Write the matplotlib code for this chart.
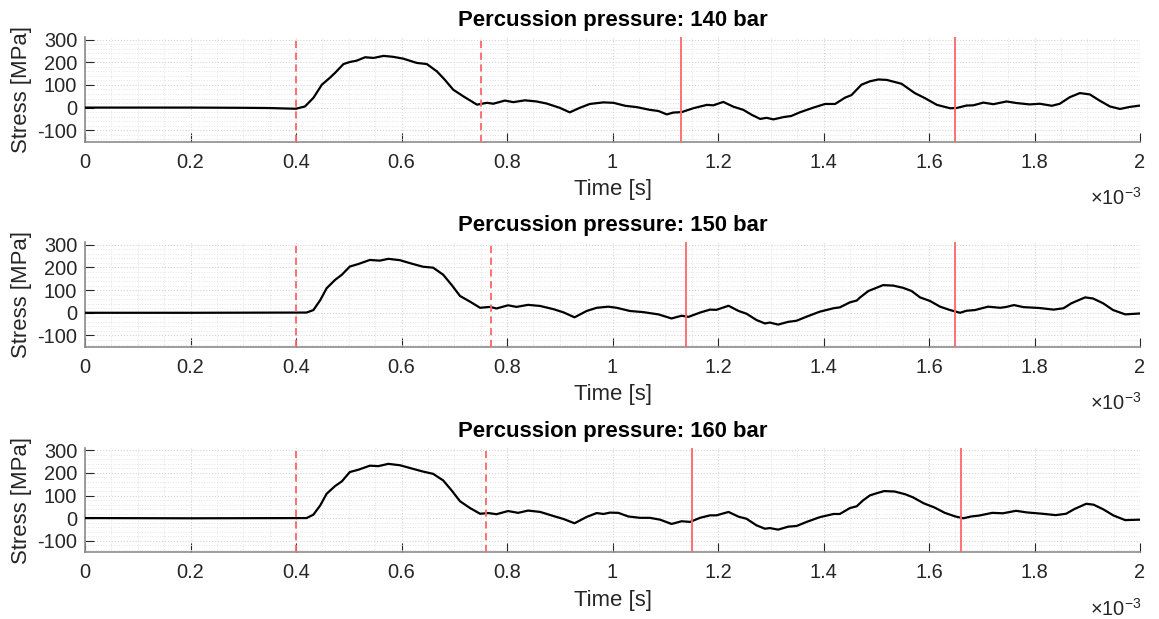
import matplotlib.pyplot as plt
from matplotlib.ticker import MultipleLocator

plt.rcParams['font.family'] = ['Liberation Sans', 'DejaVu Sans']
plt.rcParams['axes.unicode_minus'] = False
plt.rcParams['mathtext.fontset'] = 'custom'
plt.rcParams['mathtext.rm'] = 'Liberation Sans'

# time in ms (axis shows seconds x 10^-3), stress in MPa
t1 = [0, 0.1, 0.2, 0.3, 0.35, 0.38, 0.40,
      0.417, 0.433, 0.449, 0.464, 0.474, 0.49, 0.502, 0.515, 0.531, 0.547,
      0.566, 0.584, 0.603, 0.629, 0.648, 0.667, 0.682, 0.698, 0.717, 0.743,
      0.762, 0.774, 0.796, 0.812, 0.834, 0.856, 0.875, 0.9, 0.919, 0.938,
      0.957, 0.983, 1.002, 1.024, 1.046, 1.071, 1.087, 1.103, 1.115, 1.131,
      1.153, 1.179, 1.191, 1.21, 1.229, 1.248, 1.264, 1.28, 1.292, 1.305,
      1.324, 1.339, 1.355, 1.381, 1.403, 1.422, 1.441, 1.453, 1.472, 1.488,
      1.504, 1.52, 1.548, 1.573, 1.592, 1.615, 1.64, 1.652, 1.671, 1.684,
      1.703, 1.722, 1.747, 1.766, 1.791, 1.81, 1.833, 1.848, 1.867, 1.886,
      1.905, 1.924, 1.943, 1.962, 1.981, 2.0]
s1 = [0, 0, 0, -1, -2, -4, -5,
      5, 43, 101, 131, 153, 192, 201, 207, 222, 219,
      228, 224, 216, 197, 192, 160, 123, 79, 50, 13,
      21, 17, 31, 24, 32, 27, 18, -1, -21, -1,
      16, 23, 21, 8, 2, -10, -15, -30, -22, -20,
      -3, 12, 10, 25, 4, -10, -32, -50, -45, -52,
      -42, -37, -21, 0, 16, 16, 44, 55, 101, 116,
      124, 122, 105, 64, 42, 12, -3, -2, 9, 10,
      22, 15, 27, 20, 14, 17, 8, 17, 46, 64,
      58, 30, 5, -6, 3, 9]

t2 = [0, 0.2, 0.42, 0.433, 0.446, 0.458, 0.474, 0.487, 0.502, 0.518,
      0.54, 0.559, 0.575, 0.597, 0.622, 0.641, 0.66, 0.679, 0.695, 0.711,
      0.73, 0.749, 0.768, 0.78, 0.802, 0.818, 0.84, 0.863, 0.888, 0.907,
      0.928, 0.951, 0.97, 0.992, 1.008, 1.033, 1.058, 1.087, 1.112, 1.131,
      1.144, 1.166, 1.185, 1.197, 1.22, 1.239, 1.254, 1.273, 1.289, 1.298,
      1.314, 1.333, 1.349, 1.368, 1.393, 1.419, 1.431, 1.45, 1.463, 1.469,
      1.485, 1.498, 1.513, 1.532, 1.551, 1.567, 1.583, 1.602, 1.621, 1.64,
      1.659, 1.671, 1.687, 1.712, 1.735, 1.747, 1.761, 1.779, 1.81, 1.836,
      1.855, 1.87, 1.896, 1.911, 1.93, 1.949, 1.972, 2.0]
s2 = [0, 0, 1, 12, 56, 108, 145, 168, 204, 215,
      233, 230, 238, 232, 215, 203, 199, 168, 123, 74,
      49, 22, 26, 19, 33, 26, 35, 30, 16, 2,
      -20, 8, 22, 27, 22, 8, 3, -7, -25, -13,
      -18, 1, 14, 13, 31, 8, -4, -32, -47, -43,
      -52, -40, -35, -17, 5, 20, 24, 46, 54, 67,
      96, 108, 122, 120, 110, 96, 68, 52, 27, 12,
      0, 9, 12, 27, 22, 26, 34, 25, 21, 14,
      20, 42, 68, 63, 42, 12, -7, -3]

t3 = [0, 0.2, 0.42, 0.433, 0.446, 0.458, 0.474, 0.487, 0.502, 0.518,
      0.54, 0.556, 0.575, 0.597, 0.622, 0.641, 0.66, 0.679, 0.695, 0.711,
      0.73, 0.749, 0.765, 0.78, 0.802, 0.821, 0.84, 0.863, 0.888, 0.907,
      0.928, 0.951, 0.97, 0.983, 0.995, 1.011, 1.03, 1.052, 1.071, 1.09,
      1.112, 1.131, 1.147, 1.166, 1.185, 1.197, 1.22, 1.239, 1.254, 1.273,
      1.289, 1.298, 1.314, 1.333, 1.349, 1.368, 1.393, 1.419, 1.431, 1.45,
      1.463, 1.475, 1.488, 1.5, 1.515, 1.535, 1.555, 1.57, 1.59, 1.61,
      1.63, 1.65, 1.665, 1.68, 1.695, 1.72, 1.74, 1.765, 1.785, 1.815,
      1.84, 1.86, 1.875, 1.898, 1.912, 1.93, 1.95, 1.972, 2.0]
s3 = [1, 0, 1, 16, 57, 108, 142, 163, 204, 214,
      232, 230, 240, 234, 218, 206, 196, 167, 123, 75,
      45, 20, 23, 18, 32, 24, 34, 28, 10, -3,
      -22, 6, 23, 19, 25, 24, 8, 2, 2, -6,
      -25, -13, -16, 2, 13, 13, 28, 7, -2, -31,
      -46, -43, -50, -37, -34, -16, 5, 19, 19, 45,
      53, 79, 101, 110, 120, 118, 106, 92, 66, 48,
      24, 8, 0, 8, 12, 24, 22, 33, 26, 20,
      14, 20, 40, 64, 60, 40, 12, -8, -6]

pressures = [140, 150, 160]
times = [t1, t2, t3]
stresses = [s1, s2, s3]
dashed_marks = [[0.40, 0.75], [0.40, 0.77], [0.40, 0.76]]
solid_marks = [[1.13, 1.65], [1.14, 1.65], [1.15, 1.66]]
xticks = [0, 0.2, 0.4, 0.6, 0.8, 1.0, 1.2, 1.4, 1.6, 1.8, 2.0]
xtick_labels = ['0', '0.2', '0.4', '0.6', '0.8', '1', '1.2', '1.4', '1.6',
                '1.8', '2']
yticks = [-100, 0, 100, 200, 300]

W, H = 1159, 619
fig = plt.figure(figsize=(W / 100, H / 100), dpi=100)
red = '#ff6666'
tops = [37.3, 242.5, 448.0]
ax_h = 104.3

for i in range(3):
    ax = fig.add_axes([85 / W, 1 - (tops[i] + ax_h) / H, 1055 / W, ax_h / H])
    ax.plot(times[i], stresses[i], color='black', lw=1.6, zorder=3)
    for x in dashed_marks[i]:
        ax.axvline(x, color=red, lw=1.3, ls=(0, (4, 2.5)), zorder=4)
    for x in solid_marks[i]:
        ax.axvline(x, color=red, lw=1.3, zorder=4)

    ax.set_xlim(0, 2)
    ax.set_ylim(-150, 310)
    ax.set_xticks(xticks)
    ax.set_xticklabels(xtick_labels)
    ax.xaxis.set_minor_locator(MultipleLocator(0.05))
    ax.set_yticks(yticks)
    ax.yaxis.set_minor_locator(MultipleLocator(20))

    ax.grid(True, which='major', color='#d4d4d4', ls=':', lw=0.8)
    ax.grid(True, which='minor', color='#e4e4e4', ls=':', lw=0.7)
    ax.set_axisbelow(True)

    for side in ['top', 'right']:
        ax.spines[side].set_visible(False)
    for side in ['left', 'bottom']:
        ax.spines[side].set_color('#8c8c8c')
        ax.spines[side].set_linewidth(1.2)

    ax.tick_params(which='major', direction='in', length=6.5, width=0.8,
                   color='#262626', labelcolor='#262626', labelsize=14.4)
    ax.tick_params(axis='x', pad=8)
    ax.tick_params(axis='y', pad=5.5)
    ax.tick_params(which='minor', length=0)

    ax.set_title('Percussion pressure: %d bar' % pressures[i],
                 fontsize=15.9, fontweight='bold', pad=8)
    ax.set_xlabel('Time [s]', fontsize=15.9, color='#262626', va='center')
    ax.xaxis.set_label_coords(0.5, -0.46)
    ax.set_ylabel('Stress [MPa]', fontsize=15.9, color='#262626', va='center')
    ax.yaxis.set_label_coords(-0.060, 0.5)
    ax.text(1.001, -0.54, r'$\times10^{-3}$', transform=ax.transAxes,
            ha='right', va='center', fontsize=14.4, color='#262626')

fig.savefig('out.png', dpi=100)
